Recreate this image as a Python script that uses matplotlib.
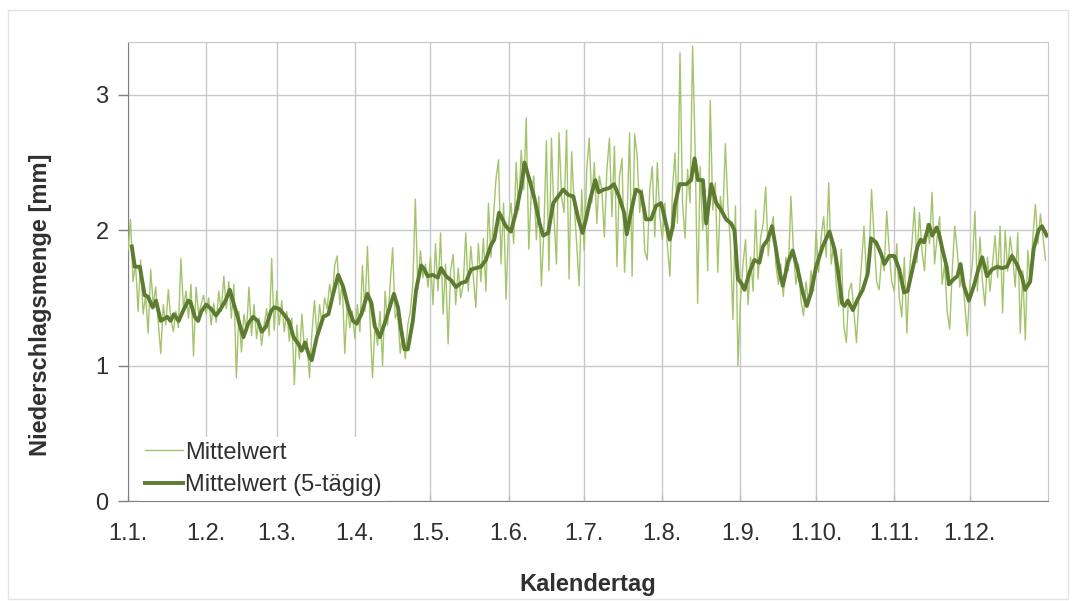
"""
Niederschlagsmenge im Jahresverlauf: Tagesmittelwert und 5-tägiges Mittel.
"""

import matplotlib
matplotlib.use("Agg")

import matplotlib.pyplot as plt
from matplotlib.patches import Rectangle

plt.rcParams["font.family"] = ["Liberation Sans", "DejaVu Sans"]

jan = [1.85, 2.08, 1.62, 1.75, 1.40, 1.78, 1.38, 1.52, 1.24, 1.71, 1.45, 1.58, 1.32, 1.09, 1.45, 1.30,
       1.56, 1.34, 1.25, 1.40, 1.28, 1.79, 1.42, 1.55, 1.35, 1.60, 1.07, 1.58, 1.38, 1.45, 1.52]
feb = [1.38, 1.50, 1.30, 1.46, 1.32, 1.55, 1.40, 1.66, 1.42, 1.62, 1.35, 1.60, 0.91, 1.40, 1.10, 1.38,
       1.25, 1.58, 1.22, 1.45, 1.20, 1.35, 1.15, 1.30, 1.42, 1.22, 1.79, 1.26]
mar = [1.55, 1.30, 1.48, 1.25, 1.40, 1.18, 1.35, 0.86, 1.30, 1.05, 1.38, 1.12, 1.20, 0.91, 1.25, 1.48,
       1.20, 1.45, 1.30, 1.50, 1.42, 1.60, 1.48, 1.74, 1.81, 1.45, 1.62, 1.09, 1.45, 1.28, 1.40]
apr = [1.20, 1.45, 1.25, 1.74, 1.40, 1.88, 1.35, 0.91, 1.30, 1.15, 1.40, 1.00, 1.55, 1.30, 1.60, 1.87,
       1.35, 1.40, 1.09, 1.25, 1.05, 1.30, 1.40, 1.60, 2.23, 1.56, 1.85, 1.65, 1.75, 1.58]
mai = [1.80, 1.45, 1.90, 1.55, 1.98, 1.38, 1.75, 1.16, 1.70, 1.82, 1.45, 1.72, 1.50, 1.60, 1.98, 1.55,
       1.88, 1.65, 1.43, 1.90, 1.62, 1.94, 1.55, 2.20, 1.80, 2.10, 2.38, 2.52, 1.75, 2.20, 1.49]
jun = [2.05, 2.20, 1.90, 2.50, 2.15, 2.59, 2.30, 2.83, 1.86, 2.28, 2.40, 1.93, 2.25, 1.59, 2.00, 2.66,
       1.70, 2.68, 2.10, 1.75, 2.72, 2.25, 2.13, 2.74, 1.64, 2.58, 2.20, 1.90, 1.59, 2.30]
jul = [1.85, 2.45, 2.68, 2.20, 2.50, 2.05, 2.40, 2.30, 1.95, 2.45, 2.68, 2.10, 2.62, 1.73, 2.40, 2.53,
       1.69, 2.10, 2.72, 1.66, 2.71, 2.55, 2.13, 2.30, 1.85, 1.78, 2.30, 2.47, 1.95, 2.50, 2.10]
aug = [1.93, 2.20, 1.88, 1.66, 2.30, 2.57, 2.05, 3.31, 2.20, 1.94, 2.45, 2.20, 3.36, 2.60, 1.46, 2.47,
       2.00, 2.30, 1.70, 2.96, 2.15, 2.35, 1.69, 2.25, 2.10, 2.64, 2.18, 1.90, 1.34, 2.18, 1.00]
sep = [1.49, 1.75, 1.93, 1.45, 1.80, 1.55, 2.15, 1.64, 1.95, 2.05, 2.32, 1.81, 2.00, 2.10, 1.75, 1.60,
       1.75, 1.51, 1.80, 1.70, 2.25, 1.85, 1.60, 1.75, 1.48, 1.37, 1.62, 1.45, 1.70, 1.55]
okt = [2.00, 1.69, 1.95, 2.10, 1.80, 2.35, 1.75, 1.90, 1.60, 1.44, 1.86, 1.29, 1.17, 1.55, 1.61, 1.40,
       1.17, 1.50, 1.75, 2.03, 1.65, 1.80, 2.30, 1.95, 1.62, 1.56, 1.80, 1.70, 2.14, 1.85, 1.62]
nov = [1.55, 1.90, 1.50, 1.36, 1.80, 1.24, 1.70, 1.90, 2.17, 1.76, 2.13, 1.85, 1.70, 2.05, 1.90, 2.28,
       1.75, 1.95, 2.10, 1.60, 1.75, 1.40, 1.27, 1.70, 2.03, 1.85, 1.58, 1.70, 1.45, 1.22]
dez = [1.60, 1.75, 2.14, 1.55, 1.95, 1.62, 1.44, 1.80, 1.55, 1.75, 1.96, 1.65, 2.03, 1.39, 2.00, 1.70,
       1.95, 1.80, 1.58, 1.98, 1.24, 1.70, 1.19, 1.85, 1.60, 1.95, 2.19, 1.90, 2.12, 1.95, 1.78]

tage_5 = [1.5, 2.7, 4.7, 6.6, 7.9, 9.8, 11.1, 13, 15.6, 16.9, 18.2, 20.1, 22, 23.9, 24.8, 26.5, 27.8,
          29.1, 31, 32.9, 34.9, 36.8, 38.7, 40.4, 41.9, 43.2, 44.5, 45.8, 47.7, 49.6, 51.5, 53.1,
          54.8, 56.7, 58, 59.9, 61.8, 63.8, 65.7, 67.6, 68.9, 70.2, 72.1, 72.9, 74.9, 77.5, 79.5,
          81.4, 83.4, 85.4, 87.4, 89.3, 90.7, 92.6, 95, 96.6, 97.9, 99.9, 101.8, 103.8, 105.5,
          107.1, 108.4, 109.7, 111, 113, 114.3, 116.3, 117.6, 118.9, 120.9, 122.9, 124.2, 126.2,
          128.2, 130.1, 132.1, 134.1, 136.1, 138, 140, 142, 144, 145.3, 147.2, 148.6, 149.9, 151.9,
          153.9, 156, 157.3, 159.3, 161.3, 163.3, 164.7, 166.7, 168.7, 170.7, 172.7, 174.7, 176.7,
          178.7, 180.3, 181.7, 183.4, 185.4, 186.7, 188.7, 190.8, 192.8, 194.8, 196.8, 197.9,
          199.5, 201.5, 203.5, 205.5, 207.5, 209.5, 211.5, 212.8, 214.9, 216.2, 216.9, 218.8,
          221.5, 223.4, 224.8, 226.1, 228.1, 229.4, 231.4, 233.4, 235.3, 237.3, 239.3, 240.6, 242,
          243.3, 244.6, 246.6, 248.5, 250.5, 251.9, 253.8, 255.5, 257.1, 258.5, 259.8, 261.8,
          263.7, 265.7, 267.7, 269.3, 271, 273, 275.6, 278.3, 280.3, 281.6, 283.3, 284.3, 285.6,
          287.6, 289.5, 291.5, 293.5, 294.8, 296.8, 298.7, 300.1, 302, 304, 306, 307.9, 309.3,
          311.2, 313.2, 314.5, 315.8, 317.8, 319.1, 320.8, 321.8, 323.1, 324.8, 325.7, 327.7, 329,
          330.3, 331.6, 333.6, 335.6, 337.2, 338.9, 340.8, 342.8, 344.8, 346.8, 348.7, 350.7,
          352.6, 354.6, 355.9, 357.9, 359.3, 361.2, 362.6, 364.5]
werte_5 = [1.88, 1.73, 1.73, 1.52, 1.51, 1.43, 1.48, 1.33, 1.36, 1.33, 1.38, 1.33, 1.41, 1.48, 1.47,
           1.36, 1.33, 1.40, 1.45, 1.42, 1.37, 1.42, 1.48, 1.56, 1.46, 1.38, 1.29, 1.21, 1.31, 1.36,
           1.33, 1.25, 1.29, 1.40, 1.43, 1.42, 1.38, 1.33, 1.21, 1.16, 1.11, 1.17, 1.06, 1.04, 1.21,
           1.36, 1.38, 1.53, 1.67, 1.58, 1.43, 1.33, 1.31, 1.38, 1.53, 1.46, 1.29, 1.21, 1.31, 1.43,
           1.53, 1.43, 1.26, 1.12, 1.12, 1.33, 1.56, 1.74, 1.71, 1.66, 1.67, 1.65, 1.72, 1.66, 1.63,
           1.58, 1.61, 1.62, 1.71, 1.72, 1.73, 1.78, 1.89, 1.93, 2.13, 2.08, 2.03, 1.99, 2.13, 2.32,
           2.50, 2.37, 2.23, 2.05, 1.96, 1.98, 2.20, 2.25, 2.30, 2.26, 2.25, 2.08, 1.98, 2.08, 2.23,
           2.37, 2.28, 2.30, 2.31, 2.34, 2.25, 2.13, 1.97, 2.13, 2.30, 2.28, 2.08, 2.08, 2.18, 2.20,
           2.10, 1.93, 2.03, 2.18, 2.34, 2.34, 2.37, 2.53, 2.37, 2.37, 2.05, 2.34, 2.20, 2.15, 2.08,
           2.05, 2.00, 1.64, 1.61, 1.56, 1.69, 1.78, 1.76, 1.88, 1.93, 2.03, 1.86, 1.69, 1.59, 1.76,
           1.85, 1.71, 1.54, 1.44, 1.54, 1.73, 1.88, 1.99, 1.86, 1.71, 1.46, 1.44, 1.48, 1.41, 1.49,
           1.56, 1.68, 1.94, 1.91, 1.83, 1.75, 1.81, 1.81, 1.71, 1.54, 1.55, 1.71, 1.88, 1.93, 1.91,
           2.04, 1.96, 2.02, 1.97, 1.86, 1.73, 1.60, 1.64, 1.66, 1.75, 1.59, 1.48, 1.59, 1.70, 1.80,
           1.66, 1.71, 1.73, 1.72, 1.73, 1.81, 1.75, 1.66, 1.56, 1.62, 1.86, 2.00, 2.03, 1.96]

# Achsenbeschriftung: Monatsanfänge
monatsanfang = [0, 31, 59, 90, 120, 151, 181, 212, 243, 273, 304, 334]
monat_labels = ["1.1.", "1.2.", "1.3.", "1.4.", "1.5.", "1.6.",
                "1.7.", "1.8.", "1.9.", "1.10.", "1.11.", "1.12."]

HELL = "#a4c46c"
DUNKEL = "#5e7b32"
TEXT = "#303030"
FS = 17

tageswerte = jan + feb + mar + apr + mai + jun + jul + aug + sep + okt + nov + dez
tage = list(range(len(tageswerte)))

fig = plt.figure(figsize=(10.75, 6.01), dpi=100)
ax = fig.add_axes([128 / 1075, 100 / 601, 920 / 1075, 459 / 601])

ax.plot(tage, tageswerte, color=HELL, lw=1.0, label="Mittelwert", zorder=3)
ax.plot(tage_5, werte_5, color=DUNKEL, lw=2.8, label="Mittelwert (5-tägig)", zorder=4)

ax.set_xlim(0, 365)
ax.set_ylim(0, 3.39)
ax.set_xticks(monatsanfang)
ax.set_xticklabels(monat_labels)
ax.set_yticks([0, 1, 2, 3])
ax.tick_params(axis="y", direction="out", length=7, width=1, color="#808080",
               labelsize=FS, labelcolor=TEXT, pad=7)
ax.tick_params(axis="x", direction="in", length=4, width=1, color="#bfbfbf",
               labelsize=FS, labelcolor=TEXT, pad=16)

ax.grid(True, color="#c8c8c8", lw=1.0, zorder=1)
ax.set_axisbelow(True)
for s in ["top", "right"]:
    ax.spines[s].set_color("#c8c8c8")
for s in ["left", "bottom"]:
    ax.spines[s].set_color("#808080")

ax.set_ylabel("Niederschlagsmenge [mm]", fontsize=FS, fontweight="bold", color=TEXT)
ax.yaxis.set_label_coords(-0.083, 0.427)
ax.set_xlabel("Kalendertag", fontsize=FS, fontweight="bold", color=TEXT)
ax.xaxis.set_label_coords(0.5, -0.183)
ax.xaxis.label.set_va("center")

leg = ax.legend(loc="lower left", bbox_to_anchor=(12 / 920, 0.0), fontsize=FS,
                handlelength=1.6, handletextpad=0.1, labelspacing=0.45,
                borderpad=0.2, borderaxespad=0.0, frameon=True, fancybox=False)
leg.get_frame().set_facecolor("white")
leg.get_frame().set_edgecolor("none")
leg.get_frame().set_alpha(1.0)
leg.set_zorder(5)
for t in leg.get_texts():
    t.set_color(TEXT)

# heller Rahmen um die ganze Grafik
fig.patches.append(Rectangle((8 / 1075, 2 / 601), 1060 / 1075, 589 / 601,
                             transform=fig.transFigure, fill=False,
                             edgecolor="#e4e4e4", lw=1))

fig.savefig("out.png", dpi=100)
